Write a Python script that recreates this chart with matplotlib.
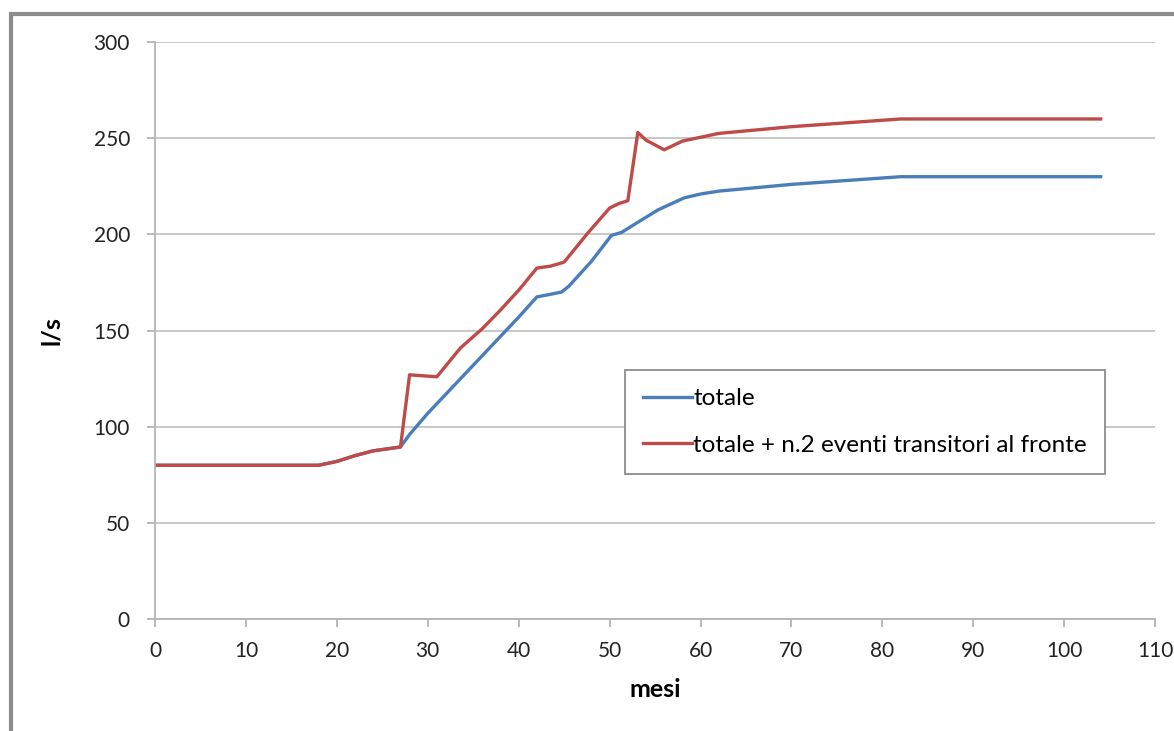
import matplotlib.pyplot as plt
from matplotlib.patches import Rectangle

# values (months vs l/s)
mesi_totale = [0, 18, 20, 22, 24, 27, 28, 30, 33, 36.4, 40, 42, 44.7, 45.5,
               48, 50.2, 51.3, 53, 55.3, 58.2, 60, 62, 70, 82, 104]
totale = [80, 80, 82, 85, 87.5, 89.5, 96, 107, 122, 139, 157, 167.5, 170, 173,
          186, 199.5, 201, 206, 212.7, 219, 221, 222.5, 226, 230, 230]

mesi_eventi = [0, 18, 20, 22, 24, 27, 28, 31, 33.6, 36, 38, 40, 42, 43.5, 45,
               47.6, 50, 51, 52, 53.1, 54, 56, 58, 62, 70, 82, 104]
eventi = [80, 80, 82, 85, 87.5, 89.5, 127, 126, 141, 151, 160.7, 171, 182.5,
          183.5, 185.6, 200.7, 213.7, 216, 217.5, 253, 249, 244, 248.5, 252.5,
          256, 260, 260]

x_ticks = list(range(0, 111, 10))
y_ticks = list(range(0, 301, 50))

plt.rcParams['font.family'] = ['Lato', 'DejaVu Sans']

fig = plt.figure(figsize=(11.74, 7.31), dpi=100)
ax = fig.add_axes([0.132, 0.153, 0.852, 0.7895])

# grey frame around the chart (cut off on the right and bottom)
fig.patches.append(Rectangle((0.009, -0.1), 1.2, 1.081,
                             transform=fig.transFigure, fill=False,
                             edgecolor='#8c8c8c', linewidth=3, zorder=0))

ax.plot(mesi_totale, totale, color='#4a7ebb', linewidth=2.4, label='totale')
ax.plot(mesi_eventi, eventi, color='#be4b48', linewidth=2.4,
        label='totale + n.2 eventi transitori al fronte')

ax.set_xlim(0, 110)
ax.set_ylim(0, 300)
ax.set_xticks(x_ticks)
ax.set_yticks(y_ticks)
ax.grid(axis='y', color='#c8c8c8', linewidth=1.4)
ax.set_axisbelow(True)

for side in ['top', 'right']:
    ax.spines[side].set_visible(False)
for side in ['left', 'bottom']:
    ax.spines[side].set_color('#b4b4b4')
    ax.spines[side].set_linewidth(1.3)
ax.tick_params(axis='both', colors='#b4b4b4', length=6, width=1.3,
               labelcolor='#222222', labelsize=15)
ax.tick_params(axis='x', pad=10)
ax.tick_params(axis='y', pad=12)

ax.set_xlabel('mesi', fontsize=18, fontweight='bold', labelpad=12)
ax.set_ylabel('l/s', fontsize=18, fontweight='bold', labelpad=22)

leg = ax.legend(loc='upper left', bbox_to_anchor=(0.47, 0.4315),
                borderaxespad=0, fontsize=17.5, fancybox=False,
                edgecolor='#8c8c8c', framealpha=1, handlelength=2.0,
                handletextpad=0.05, borderpad=0.75, labelspacing=1.05)
leg.get_frame().set_linewidth(1.3)

plt.savefig('out.png', dpi=100)
